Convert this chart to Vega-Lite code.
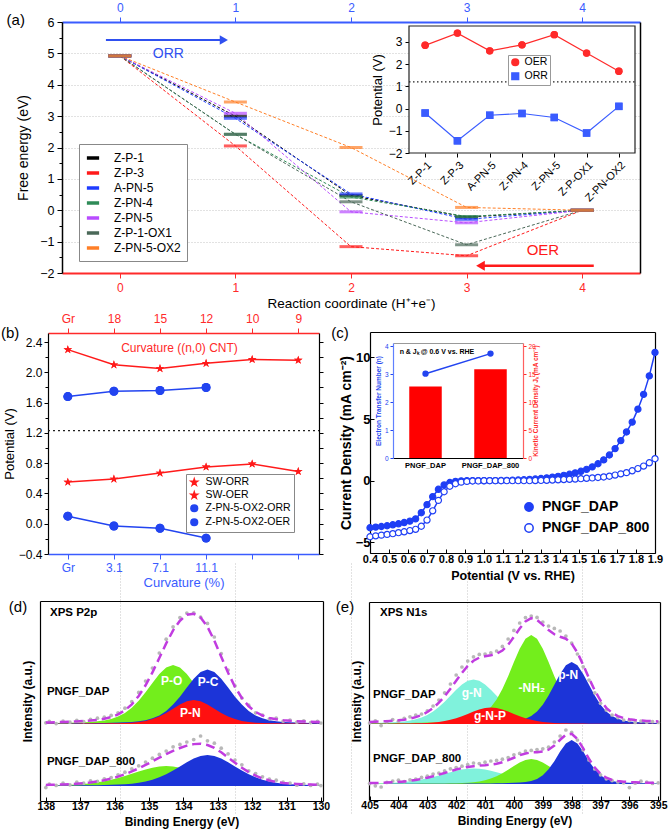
{
"$schema":"https://vega.github.io/schema/vega-lite/v6.json",
"width":668,"height":836,"autosize":"none","padding":0,"background":"white",
"config":{"font":"Liberation Sans","view":{"stroke":null},
 "axis":{"labelFont":"Liberation Sans","titleFont":"Liberation Sans","domainColor":"#000","tickColor":"#000","labelColor":"#000","titleColor":"#000","titleFontWeight":"normal","labelFlush":false,"labelOverlap":false,"grid":false,"domainWidth":1.2,"tickWidth":1,"labelFontSize":12,"titleFontSize":13,"tickSize":5},
 "legend":{"labelFont":"Liberation Sans"},
 "text":{"font":"Liberation Sans"}},
"datasets":{
 "fe":[
  {"s":"Z-P-1","step":0,"g":4.92},{"s":"Z-P-1","step":1,"g":3.0},{"s":"Z-P-1","step":2,"g":0.47},{"s":"Z-P-1","step":3,"g":-0.22},{"s":"Z-P-1","step":4,"g":0},
  {"s":"Z-P-3","step":0,"g":4.92},{"s":"Z-P-3","step":1,"g":2.05},{"s":"Z-P-3","step":2,"g":-1.16},{"s":"Z-P-3","step":3,"g":-1.45},{"s":"Z-P-3","step":4,"g":0},
  {"s":"A-PN-5","step":0,"g":4.92},{"s":"A-PN-5","step":1,"g":2.93},{"s":"A-PN-5","step":2,"g":0.52},{"s":"A-PN-5","step":3,"g":-0.29},{"s":"A-PN-5","step":4,"g":0},
  {"s":"Z-PN-4","step":0,"g":4.92},{"s":"Z-PN-4","step":1,"g":2.42},{"s":"Z-PN-4","step":2,"g":0.42},{"s":"Z-PN-4","step":3,"g":-0.2},{"s":"Z-PN-4","step":4,"g":0},
  {"s":"Z-PN-5","step":0,"g":4.92},{"s":"Z-PN-5","step":1,"g":3.09},{"s":"Z-PN-5","step":2,"g":-0.05},{"s":"Z-PN-5","step":3,"g":-0.4},{"s":"Z-PN-5","step":4,"g":0},
  {"s":"Z-P-1-OX1","step":0,"g":4.92},{"s":"Z-P-1-OX1","step":1,"g":2.42},{"s":"Z-P-1-OX1","step":2,"g":0.27},{"s":"Z-P-1-OX1","step":3,"g":-1.1},{"s":"Z-P-1-OX1","step":4,"g":0},
  {"s":"Z-PN-5-OX2","step":0,"g":4.92},{"s":"Z-PN-5-OX2","step":1,"g":3.45},{"s":"Z-PN-5-OX2","step":2,"g":2.0},{"s":"Z-PN-5-OX2","step":3,"g":0.09},{"s":"Z-PN-5-OX2","step":4,"g":0}],
 "ins":[
  {"i":0,"sample":"Z-P-1","t":"OER","v":2.85},{"i":1,"sample":"Z-P-3","t":"OER","v":3.4},{"i":2,"sample":"A-PN-5","t":"OER","v":2.6},{"i":3,"sample":"Z-PN-4","t":"OER","v":2.87},{"i":4,"sample":"Z-PN-5","t":"OER","v":3.33},{"i":5,"sample":"Z-P-OX1","t":"OER","v":2.5},{"i":6,"sample":"Z-PN-OX2","t":"OER","v":1.68},
  {"i":0,"sample":"Z-P-1","t":"ORR","v":-0.2},{"i":1,"sample":"Z-P-3","t":"ORR","v":-1.45},{"i":2,"sample":"A-PN-5","t":"ORR","v":-0.3},{"i":3,"sample":"Z-PN-4","t":"ORR","v":-0.22},{"i":4,"sample":"Z-PN-5","t":"ORR","v":-0.4},{"i":5,"sample":"Z-P-OX1","t":"ORR","v":-1.1},{"i":6,"sample":"Z-PN-OX2","t":"ORR","v":0.1}],
 "bb":[
  {"i":0,"s":"SW-ORR","v":0.55},{"i":1,"s":"SW-ORR","v":0.59},{"i":2,"s":"SW-ORR","v":0.67},{"i":3,"s":"SW-ORR","v":0.75},{"i":4,"s":"SW-ORR","v":0.79},{"i":5,"s":"SW-ORR","v":0.69},
  {"i":0,"s":"SW-OER","v":2.3},{"i":1,"s":"SW-OER","v":2.1},{"i":2,"s":"SW-OER","v":2.05},{"i":3,"s":"SW-OER","v":2.12},{"i":4,"s":"SW-OER","v":2.17},{"i":5,"s":"SW-OER","v":2.16},
  {"i":0,"s":"Z-PN-5-OX2-ORR","v":0.1},{"i":1,"s":"Z-PN-5-OX2-ORR","v":-0.03},{"i":2,"s":"Z-PN-5-OX2-ORR","v":-0.06},{"i":3,"s":"Z-PN-5-OX2-ORR","v":-0.19},
  {"i":0,"s":"Z-PN-5-OX2-OER","v":1.68},{"i":1,"s":"Z-PN-5-OX2-OER","v":1.75},{"i":2,"s":"Z-PN-5-OX2-OER","v":1.76},{"i":3,"s":"Z-PN-5-OX2-OER","v":1.8}],
 "lsv":[
  {"p":0.4,"PNGF_DAP":-3.82,"PNGF_DAP_800":-4.55},{"p":0.43,"PNGF_DAP":-3.77,"PNGF_DAP_800":-4.48},{"p":0.46,"PNGF_DAP":-3.72,"PNGF_DAP_800":-4.42},{"p":0.49,"PNGF_DAP":-3.66,"PNGF_DAP_800":-4.36},{"p":0.52,"PNGF_DAP":-3.58,"PNGF_DAP_800":-4.3},{"p":0.55,"PNGF_DAP":-3.5,"PNGF_DAP_800":-4.22},{"p":0.58,"PNGF_DAP":-3.4,"PNGF_DAP_800":-4.15},{"p":0.61,"PNGF_DAP":-3.28,"PNGF_DAP_800":-4.05},{"p":0.64,"PNGF_DAP":-3.1,"PNGF_DAP_800":-3.95},{"p":0.67,"PNGF_DAP":-2.6,"PNGF_DAP_800":-3.7},
  {"p":0.7,"PNGF_DAP":-1.95,"PNGF_DAP_800":-3.2},{"p":0.73,"PNGF_DAP":-1.3,"PNGF_DAP_800":-2.45},{"p":0.76,"PNGF_DAP":-0.7,"PNGF_DAP_800":-1.6},{"p":0.79,"PNGF_DAP":-0.35,"PNGF_DAP_800":-0.9},{"p":0.82,"PNGF_DAP":-0.15,"PNGF_DAP_800":-0.45},{"p":0.85,"PNGF_DAP":-0.06,"PNGF_DAP_800":-0.25},{"p":0.88,"PNGF_DAP":-0.02,"PNGF_DAP_800":-0.12},{"p":0.91,"PNGF_DAP":0,"PNGF_DAP_800":-0.06},{"p":0.94,"PNGF_DAP":0,"PNGF_DAP_800":-0.03},{"p":0.97,"PNGF_DAP":0,"PNGF_DAP_800":-0.02},
  {"p":1.0,"PNGF_DAP":0,"PNGF_DAP_800":-0.01},{"p":1.03,"PNGF_DAP":0,"PNGF_DAP_800":0},{"p":1.06,"PNGF_DAP":0,"PNGF_DAP_800":0},{"p":1.09,"PNGF_DAP":0.01,"PNGF_DAP_800":0},{"p":1.12,"PNGF_DAP":0.02,"PNGF_DAP_800":0},{"p":1.15,"PNGF_DAP":0.03,"PNGF_DAP_800":0},{"p":1.18,"PNGF_DAP":0.05,"PNGF_DAP_800":0},{"p":1.21,"PNGF_DAP":0.07,"PNGF_DAP_800":0},{"p":1.24,"PNGF_DAP":0.1,"PNGF_DAP_800":0},{"p":1.27,"PNGF_DAP":0.13,"PNGF_DAP_800":0.01},
  {"p":1.3,"PNGF_DAP":0.17,"PNGF_DAP_800":0.02},{"p":1.33,"PNGF_DAP":0.22,"PNGF_DAP_800":0.03},{"p":1.36,"PNGF_DAP":0.28,"PNGF_DAP_800":0.05},{"p":1.39,"PNGF_DAP":0.35,"PNGF_DAP_800":0.07},{"p":1.42,"PNGF_DAP":0.43,"PNGF_DAP_800":0.09},{"p":1.45,"PNGF_DAP":0.52,"PNGF_DAP_800":0.11},{"p":1.48,"PNGF_DAP":0.63,"PNGF_DAP_800":0.13},{"p":1.51,"PNGF_DAP":0.76,"PNGF_DAP_800":0.16},{"p":1.54,"PNGF_DAP":0.92,"PNGF_DAP_800":0.19},{"p":1.57,"PNGF_DAP":1.12,"PNGF_DAP_800":0.22},
  {"p":1.6,"PNGF_DAP":1.37,"PNGF_DAP_800":0.26},{"p":1.63,"PNGF_DAP":1.68,"PNGF_DAP_800":0.3},{"p":1.66,"PNGF_DAP":2.08,"PNGF_DAP_800":0.36},{"p":1.69,"PNGF_DAP":2.6,"PNGF_DAP_800":0.45},{"p":1.72,"PNGF_DAP":3.25,"PNGF_DAP_800":0.55},{"p":1.75,"PNGF_DAP":3.95,"PNGF_DAP_800":0.65},{"p":1.78,"PNGF_DAP":4.75,"PNGF_DAP_800":0.8},{"p":1.81,"PNGF_DAP":5.8,"PNGF_DAP_800":0.98},{"p":1.84,"PNGF_DAP":7.0,"PNGF_DAP_800":1.18},{"p":1.87,"PNGF_DAP":8.5,"PNGF_DAP_800":1.45},
  {"p":1.9,"PNGF_DAP":10.4,"PNGF_DAP_800":1.78}],
 "cin":[{"sample":"PNGF_DAP","n":3.02,"jk":12.8},{"sample":"PNGF_DAP_800","n":3.74,"jk":15.9}],
 "d1":[
  {"e":138.0,"po":0.45,"pc":0.22,"pn":0.1,"fit":0.77,"raw":0.6},{"e":137.9,"po":0.47,"pc":0.23,"pn":0.11,"fit":0.81,"raw":1.3},{"e":137.7,"po":0.5,"pc":0.26,"pn":0.12,"fit":0.88,"raw":0.2},{"e":137.5,"po":0.59,"pc":0.28,"pn":0.13,"fit":1.0,"raw":1.4},{"e":137.3,"po":0.65,"pc":0.31,"pn":0.14,"fit":1.1,"raw":0.9},{"e":137.1,"po":0.74,"pc":0.35,"pn":0.17,"fit":1.26,"raw":1.8},{"e":136.9,"po":0.89,"pc":0.38,"pn":0.2,"fit":1.47,"raw":1.2},{"e":136.7,"po":1.06,"pc":0.43,"pn":0.22,"fit":1.71,"raw":2.3},{"e":136.5,"po":1.35,"pc":0.48,"pn":0.24,"fit":2.07,"raw":2.9},{"e":136.3,"po":1.8,"pc":0.55,"pn":0.28,"fit":2.63,"raw":3.4},
  {"e":136.1,"po":2.5,"pc":0.62,"pn":0.32,"fit":3.44,"raw":4.3},{"e":135.9,"po":3.7,"pc":0.71,"pn":0.38,"fit":4.79,"raw":5.6},{"e":135.7,"po":5.5,"pc":0.83,"pn":0.5,"fit":6.83,"raw":7.9},{"e":135.5,"po":8.1,"pc":1.06,"pn":0.68,"fit":9.84,"raw":11.2},{"e":135.3,"po":11.6,"pc":1.4,"pn":1.0,"fit":14.0,"raw":15.8},{"e":135.1,"po":15.9,"pc":1.9,"pn":1.55,"fit":19.35,"raw":21.5},{"e":134.9,"po":20.5,"pc":2.85,"pn":2.44,"fit":25.8,"raw":28.0},{"e":134.7,"po":25.0,"pc":4.3,"pn":3.74,"fit":33.0,"raw":35.5},{"e":134.5,"po":28.3,"pc":6.5,"pn":5.5,"fit":40.3,"raw":42.4},{"e":134.3,"po":29.5,"pc":9.7,"pn":7.6,"fit":46.8,"raw":48.6},
  {"e":134.1,"po":28.3,"pc":13.65,"pn":9.7,"fit":51.65,"raw":53.2},{"e":133.9,"po":25.0,"pc":18.2,"pn":11.4,"fit":54.6,"raw":55.5},{"e":133.7,"po":20.5,"pc":22.6,"pn":12.0,"fit":55.1,"raw":55.6},{"e":133.5,"po":15.9,"pc":26.0,"pn":11.4,"fit":53.3,"raw":53.4},{"e":133.3,"po":11.6,"pc":27.3,"pn":9.7,"fit":48.6,"raw":50.3},{"e":133.1,"po":8.1,"pc":26.0,"pn":7.6,"fit":41.7,"raw":43.5},{"e":132.9,"po":5.5,"pc":22.6,"pn":5.5,"fit":33.6,"raw":35.2},{"e":132.7,"po":3.7,"pc":18.2,"pn":3.74,"fit":25.6,"raw":27.0},{"e":132.5,"po":2.5,"pc":13.65,"pn":2.44,"fit":18.6,"raw":19.1},{"e":132.3,"po":1.8,"pc":9.7,"pn":1.55,"fit":13.05,"raw":13.0},
  {"e":132.1,"po":1.35,"pc":6.5,"pn":1.0,"fit":8.85,"raw":9.4},{"e":131.9,"po":1.06,"pc":4.3,"pn":0.68,"fit":6.04,"raw":5.6},{"e":131.7,"po":0.89,"pc":2.85,"pn":0.5,"fit":4.24,"raw":4.5},{"e":131.5,"po":0.74,"pc":1.9,"pn":0.38,"fit":3.02,"raw":2.6},{"e":131.3,"po":0.65,"pc":1.4,"pn":0.32,"fit":2.37,"raw":2.9},{"e":131.1,"po":0.59,"pc":1.06,"pn":0.28,"fit":1.93,"raw":1.4},{"e":130.9,"po":0.5,"pc":0.83,"pn":0.24,"fit":1.57,"raw":2.0},{"e":130.7,"po":0.47,"pc":0.71,"pn":0.22,"fit":1.4,"raw":0.9},{"e":130.5,"po":0.41,"pc":0.62,"pn":0.2,"fit":1.23,"raw":1.6},{"e":130.3,"po":0.38,"pc":0.55,"pn":0.17,"fit":1.1,"raw":0.7},
  {"e":130.1,"po":0.35,"pc":0.48,"pn":0.15,"fit":0.98,"raw":1.3},{"e":130.0,"po":0.34,"pc":0.45,"pn":0.14,"fit":0.93,"raw":0.5}],
 "d2":[
  {"e":138.0,"po":0.33,"pc":0.2,"fit":0.53,"raw":-0.8},{"e":137.9,"po":0.36,"pc":0.21,"fit":0.57,"raw":0.9},{"e":137.7,"po":0.42,"pc":0.23,"fit":0.65,"raw":0.3},{"e":137.5,"po":0.51,"pc":0.25,"fit":0.76,"raw":1.5},{"e":137.3,"po":0.63,"pc":0.27,"fit":0.9,"raw":0.6},{"e":137.1,"po":0.8,"pc":0.3,"fit":1.1,"raw":1.9},{"e":136.9,"po":1.04,"pc":0.33,"fit":1.37,"raw":1.4},{"e":136.7,"po":1.37,"pc":0.37,"fit":1.74,"raw":2.6},{"e":136.5,"po":1.82,"pc":0.43,"fit":2.25,"raw":2.3},{"e":136.3,"po":2.39,"pc":0.48,"fit":2.87,"raw":3.6},
  {"e":136.1,"po":3.12,"pc":0.57,"fit":3.69,"raw":4.2},{"e":135.9,"po":4.0,"pc":0.7,"fit":4.7,"raw":5.6},{"e":135.7,"po":5.0,"pc":0.89,"fit":5.89,"raw":6.9},{"e":135.5,"po":6.1,"pc":1.18,"fit":7.28,"raw":8.6},{"e":135.3,"po":7.22,"pc":1.61,"fit":8.83,"raw":10.1},{"e":135.1,"po":8.29,"pc":2.25,"fit":10.54,"raw":12.0},{"e":134.9,"po":9.18,"pc":3.14,"fit":12.32,"raw":13.9},{"e":134.7,"po":9.79,"pc":4.36,"fit":14.15,"raw":15.8},{"e":134.5,"po":10.0,"pc":5.91,"fit":15.91,"raw":17.5},{"e":134.3,"po":9.79,"pc":7.75,"fit":17.54,"raw":19.6},
  {"e":134.1,"po":9.18,"pc":9.8,"fit":18.98,"raw":20.8},{"e":133.9,"po":8.29,"pc":11.87,"fit":20.16,"raw":22.0},{"e":133.7,"po":7.22,"pc":13.72,"fit":20.94,"raw":23.2},{"e":133.5,"po":6.1,"pc":15.03,"fit":21.13,"raw":25.0},{"e":133.3,"po":5.0,"pc":15.5,"fit":20.5,"raw":22.6},{"e":133.1,"po":4.0,"pc":15.03,"fit":19.03,"raw":21.4},{"e":132.9,"po":3.12,"pc":13.72,"fit":16.84,"raw":18.9},{"e":132.7,"po":2.39,"pc":11.87,"fit":14.26,"raw":16.1},{"e":132.5,"po":1.82,"pc":9.8,"fit":11.62,"raw":13.0},{"e":132.3,"po":1.37,"pc":7.75,"fit":9.12,"raw":10.6},
  {"e":132.1,"po":1.04,"pc":5.91,"fit":6.95,"raw":7.6},{"e":131.9,"po":0.8,"pc":4.36,"fit":5.16,"raw":6.2},{"e":131.7,"po":0.63,"pc":3.14,"fit":3.77,"raw":4.6},{"e":131.5,"po":0.51,"pc":2.25,"fit":2.76,"raw":3.4},{"e":131.3,"po":0.42,"pc":1.61,"fit":2.03,"raw":2.9},{"e":131.1,"po":0.36,"pc":1.18,"fit":1.54,"raw":1.9},{"e":130.9,"po":0.31,"pc":0.89,"fit":1.2,"raw":1.5},{"e":130.7,"po":0.28,"pc":0.7,"fit":0.98,"raw":0.4},{"e":130.5,"po":0.25,"pc":0.57,"fit":0.82,"raw":1.1},{"e":130.3,"po":0.23,"pc":0.48,"fit":0.71,"raw":0.3},
  {"e":130.1,"po":0.21,"pc":0.43,"fit":0.64,"raw":0.9},{"e":130.0,"po":0.2,"pc":0.4,"fit":0.6,"raw":0.2}],
 "e1":[
  {"e":405.0,"gn":0.48,"gnp":0.12,"nh2":0.33,"pn":0.11,"fit":1.04,"raw":0.5},{"e":404.8,"gn":0.54,"gnp":0.13,"nh2":0.36,"pn":0.12,"fit":1.15,"raw":1.6},{"e":404.6,"gn":0.62,"gnp":0.15,"nh2":0.38,"pn":0.12,"fit":1.27,"raw":-0.8},{"e":404.4,"gn":0.69,"gnp":0.16,"nh2":0.4,"pn":0.13,"fit":1.38,"raw":1.2},{"e":404.2,"gn":0.83,"gnp":0.18,"nh2":0.45,"pn":0.14,"fit":1.6,"raw":2.2},{"e":404.0,"gn":1.0,"gnp":0.2,"nh2":0.47,"pn":0.15,"fit":1.82,"raw":1.4},{"e":403.8,"gn":1.27,"gnp":0.23,"nh2":0.49,"pn":0.16,"fit":2.15,"raw":2.8},{"e":403.6,"gn":1.69,"gnp":0.27,"nh2":0.53,"pn":0.17,"fit":2.66,"raw":3.6},{"e":403.4,"gn":2.32,"gnp":0.33,"nh2":0.58,"pn":0.18,"fit":3.41,"raw":4.5},{"e":403.2,"gn":3.23,"gnp":0.41,"nh2":0.62,"pn":0.2,"fit":4.46,"raw":5.0},
  {"e":403.0,"gn":4.53,"gnp":0.53,"nh2":0.71,"pn":0.21,"fit":5.98,"raw":6.6},{"e":402.8,"gn":6.27,"gnp":0.73,"nh2":0.76,"pn":0.22,"fit":7.98,"raw":9.0},{"e":402.6,"gn":8.5,"gnp":1.03,"nh2":0.89,"pn":0.24,"fit":10.66,"raw":12.0},{"e":402.4,"gn":11.15,"gnp":1.46,"nh2":0.98,"pn":0.26,"fit":13.85,"raw":15.6},{"e":402.2,"gn":14.1,"gnp":2.08,"nh2":1.11,"pn":0.29,"fit":17.58,"raw":20.0},{"e":402.0,"gn":17.1,"gnp":2.88,"nh2":1.34,"pn":0.33,"fit":21.65,"raw":24.5},{"e":401.8,"gn":19.7,"gnp":3.88,"nh2":1.6,"pn":0.34,"fit":25.52,"raw":28.5},{"e":401.6,"gn":21.6,"gnp":5.0,"nh2":2.05,"pn":0.39,"fit":29.04,"raw":31.5},{"e":401.4,"gn":22.3,"gnp":6.2,"nh2":2.71,"pn":0.43,"fit":31.64,"raw":33.6},{"e":401.2,"gn":21.6,"gnp":7.25,"nh2":3.83,"pn":0.5,"fit":33.18,"raw":34.8},
  {"e":401.0,"gn":19.7,"gnp":8.0,"nh2":5.6,"pn":0.56,"fit":33.86,"raw":35.0},{"e":400.8,"gn":17.1,"gnp":8.3,"nh2":8.37,"pn":0.62,"fit":34.39,"raw":35.6},{"e":400.6,"gn":14.1,"gnp":8.0,"nh2":12.3,"pn":0.71,"fit":35.11,"raw":36.5},{"e":400.4,"gn":11.15,"gnp":7.25,"nh2":17.5,"pn":0.84,"fit":36.74,"raw":38.8},{"e":400.2,"gn":8.5,"gnp":6.2,"nh2":23.9,"pn":0.99,"fit":39.59,"raw":42.5},{"e":400.0,"gn":6.27,"gnp":5.0,"nh2":31.0,"pn":1.3,"fit":43.57,"raw":46.8},{"e":399.8,"gn":4.53,"gnp":3.88,"nh2":37.6,"pn":1.77,"fit":47.78,"raw":50.5},{"e":399.6,"gn":3.23,"gnp":2.88,"nh2":42.6,"pn":2.6,"fit":51.31,"raw":53.2},{"e":399.4,"gn":2.32,"gnp":2.08,"nh2":44.5,"pn":4.0,"fit":52.9,"raw":54.0},{"e":399.2,"gn":1.69,"gnp":1.46,"nh2":42.6,"pn":6.29,"fit":52.04,"raw":53.3},
  {"e":399.0,"gn":1.27,"gnp":1.03,"nh2":37.6,"pn":9.67,"fit":49.57,"raw":51.0},{"e":398.8,"gn":1.0,"gnp":0.73,"nh2":31.0,"pn":14.2,"fit":46.93,"raw":49.0},{"e":398.6,"gn":0.83,"gnp":0.53,"nh2":23.9,"pn":19.6,"fit":44.86,"raw":47.8},{"e":398.4,"gn":0.69,"gnp":0.41,"nh2":17.5,"pn":25.0,"fit":43.6,"raw":46.5},{"e":398.2,"gn":0.62,"gnp":0.33,"nh2":12.3,"pn":29.4,"fit":42.65,"raw":44.0},{"e":398.0,"gn":0.54,"gnp":0.27,"nh2":8.37,"pn":31.0,"fit":40.18,"raw":40.5},{"e":397.8,"gn":0.48,"gnp":0.23,"nh2":5.6,"pn":29.4,"fit":35.71,"raw":35.0},{"e":397.6,"gn":0.43,"gnp":0.2,"nh2":3.83,"pn":25.0,"fit":29.46,"raw":28.6},{"e":397.4,"gn":0.39,"gnp":0.18,"nh2":2.71,"pn":19.6,"fit":22.88,"raw":22.0},{"e":397.2,"gn":0.36,"gnp":0.16,"nh2":2.05,"pn":14.2,"fit":16.77,"raw":15.6},
  {"e":397.0,"gn":0.33,"gnp":0.15,"nh2":1.6,"pn":9.67,"fit":11.75,"raw":10.4},{"e":396.8,"gn":0.3,"gnp":0.13,"nh2":1.34,"pn":6.29,"fit":8.06,"raw":7.0},{"e":396.6,"gn":0.28,"gnp":0.12,"nh2":1.11,"pn":4.0,"fit":5.51,"raw":4.5},{"e":396.4,"gn":0.26,"gnp":0.11,"nh2":0.98,"pn":2.6,"fit":3.95,"raw":3.2},{"e":396.2,"gn":0.24,"gnp":0.1,"nh2":0.89,"pn":1.77,"fit":3.0,"raw":2.0},{"e":396.0,"gn":0.23,"gnp":0.09,"nh2":0.76,"pn":1.3,"fit":2.38,"raw":1.8},{"e":395.8,"gn":0.22,"gnp":0.08,"nh2":0.71,"pn":0.99,"fit":2.0,"raw":0.8},{"e":395.6,"gn":0.21,"gnp":0.08,"nh2":0.62,"pn":0.84,"fit":1.75,"raw":1.5},{"e":395.4,"gn":0.2,"gnp":0.07,"nh2":0.58,"pn":0.71,"fit":1.56,"raw":0.9},{"e":395.2,"gn":0.19,"gnp":0.07,"nh2":0.53,"pn":0.62,"fit":1.41,"raw":1.2},
  {"e":395.0,"gn":0.18,"gnp":0.06,"nh2":0.49,"pn":0.56,"fit":1.29,"raw":0.8}],
 "e2":[
  {"e":405.0,"gn":0.3,"nh2":0.095,"pn":0.05,"fit":0.45,"raw":0.2},{"e":404.8,"gn":0.35,"nh2":0.1,"pn":0.05,"fit":0.5,"raw":-0.9},{"e":404.6,"gn":0.41,"nh2":0.11,"pn":0.06,"fit":0.58,"raw":-1.5},{"e":404.4,"gn":0.51,"nh2":0.12,"pn":0.06,"fit":0.69,"raw":0.8},{"e":404.2,"gn":0.63,"nh2":0.13,"pn":0.07,"fit":0.83,"raw":1.5},{"e":404.0,"gn":0.81,"nh2":0.14,"pn":0.07,"fit":1.02,"raw":1.9},{"e":403.8,"gn":1.05,"nh2":0.15,"pn":0.08,"fit":1.28,"raw":1.2},{"e":403.6,"gn":1.36,"nh2":0.16,"pn":0.08,"fit":1.6,"raw":2.1},{"e":403.4,"gn":1.76,"nh2":0.18,"pn":0.09,"fit":2.03,"raw":2.5},{"e":403.2,"gn":2.25,"nh2":0.2,"pn":0.09,"fit":2.54,"raw":3.3},
  {"e":403.0,"gn":2.84,"nh2":0.22,"pn":0.1,"fit":3.16,"raw":3.9},{"e":402.8,"gn":3.53,"nh2":0.25,"pn":0.11,"fit":3.89,"raw":5.0},{"e":402.6,"gn":4.29,"nh2":0.28,"pn":0.12,"fit":4.69,"raw":5.5},{"e":402.4,"gn":5.09,"nh2":0.31,"pn":0.13,"fit":5.53,"raw":6.6},{"e":402.2,"gn":5.9,"nh2":0.36,"pn":0.14,"fit":6.4,"raw":7.6},{"e":402.0,"gn":6.64,"nh2":0.43,"pn":0.15,"fit":7.22,"raw":8.2},{"e":401.8,"gn":7.25,"nh2":0.53,"pn":0.17,"fit":7.95,"raw":8.9},{"e":401.6,"gn":7.66,"nh2":0.68,"pn":0.19,"fit":8.53,"raw":9.7},{"e":401.4,"gn":7.8,"nh2":0.91,"pn":0.21,"fit":8.92,"raw":10.5},{"e":401.2,"gn":7.66,"nh2":1.3,"pn":0.24,"fit":9.2,"raw":10.2},
  {"e":401.0,"gn":7.25,"nh2":1.88,"pn":0.27,"fit":9.4,"raw":10.9},{"e":400.8,"gn":6.64,"nh2":2.74,"pn":0.31,"fit":9.69,"raw":11.5},{"e":400.6,"gn":5.9,"nh2":3.9,"pn":0.35,"fit":10.15,"raw":11.8},{"e":400.4,"gn":5.09,"nh2":5.4,"pn":0.42,"fit":10.91,"raw":12.4},{"e":400.2,"gn":4.29,"nh2":7.15,"pn":0.48,"fit":11.92,"raw":13.2},{"e":400.0,"gn":3.53,"nh2":9.0,"pn":0.59,"fit":13.12,"raw":14.6},{"e":399.8,"gn":2.84,"nh2":10.8,"pn":0.75,"fit":14.39,"raw":15.3},{"e":399.6,"gn":2.25,"nh2":12.0,"pn":1.01,"fit":15.26,"raw":16.5},{"e":399.4,"gn":1.76,"nh2":12.5,"pn":1.52,"fit":15.78,"raw":16.8},{"e":399.2,"gn":1.36,"nh2":12.0,"pn":2.53,"fit":15.89,"raw":17.2},
  {"e":399.0,"gn":1.05,"nh2":10.8,"pn":4.38,"fit":16.23,"raw":17.6},{"e":398.8,"gn":0.81,"nh2":9.0,"pn":7.33,"fit":17.14,"raw":18.4},{"e":398.6,"gn":0.63,"nh2":7.15,"pn":11.4,"fit":19.18,"raw":21.0},{"e":398.4,"gn":0.51,"nh2":5.4,"pn":16.2,"fit":22.11,"raw":24.0},{"e":398.2,"gn":0.41,"nh2":3.9,"pn":20.3,"fit":24.61,"raw":27.0},{"e":398.0,"gn":0.35,"nh2":2.74,"pn":22.0,"fit":25.09,"raw":25.8},{"e":397.8,"gn":0.3,"nh2":1.88,"pn":20.3,"fit":22.48,"raw":22.0},{"e":397.6,"gn":0.27,"nh2":1.3,"pn":16.2,"fit":17.77,"raw":17.0},{"e":397.4,"gn":0.23,"nh2":0.91,"pn":11.4,"fit":12.54,"raw":12.0},{"e":397.2,"gn":0.21,"nh2":0.68,"pn":7.33,"fit":8.22,"raw":7.5},
  {"e":397.0,"gn":0.19,"nh2":0.53,"pn":4.38,"fit":5.1,"raw":4.6},{"e":396.8,"gn":0.18,"nh2":0.43,"pn":2.53,"fit":3.14,"raw":2.6},{"e":396.6,"gn":0.16,"nh2":0.36,"pn":1.52,"fit":2.04,"raw":1.7},{"e":396.4,"gn":0.15,"nh2":0.31,"pn":1.01,"fit":1.47,"raw":1.0},{"e":396.2,"gn":0.14,"nh2":0.28,"pn":0.75,"fit":1.17,"raw":0.6},{"e":396.0,"gn":0.13,"nh2":0.25,"pn":0.59,"fit":0.97,"raw":-1.8},{"e":395.8,"gn":0.12,"nh2":0.22,"pn":0.48,"fit":0.82,"raw":0.4},{"e":395.6,"gn":0.11,"nh2":0.2,"pn":0.42,"fit":0.73,"raw":1.4},{"e":395.4,"gn":0.11,"nh2":0.18,"pn":0.35,"fit":0.64,"raw":0.9},{"e":395.2,"gn":0.1,"nh2":0.16,"pn":0.31,"fit":0.57,"raw":0.3},
  {"e":395.0,"gn":0.09,"nh2":0.15,"pn":0.27,"fit":0.51,"raw":0.6}]
},
"layer":[
 {"layer":[
  {"layer":[
   {"data":{"name":"fe"},"mark":{"type":"line","strokeWidth":1,"strokeDash":[3,2]},
    "encoding":{
     "x":{"field":"step","type":"quantitative","scale":{"domain":[-0.5,4.5],"range":[62,640],"nice":false,"zero":false},"axis":{"orient":"bottom","offset":-563,"values":[0,1,2,3,4],"format":"d","labelColor":"#ff2a2a","tickColor":"#ff2a2a","domainColor":"#ff2a2a","domainWidth":2,"labelPadding":4,"grid":true,"gridColor":"#c4c4c4","gridDash":[1,2],"title":"Reaction coordinate (H⁺+e⁻)","titleFontSize":13.5,"titlePadding":3}},
     "y":{"field":"g","type":"quantitative","scale":{"domain":[-2,6],"range":[273,22],"nice":false,"zero":false},"axis":{"orient":"left","offset":-62,"values":[-2,-1,0,1,2,3,4,5,6],"labelFontSize":12.5,"labelPadding":3,"grid":true,"gridColor":"#c4c4c4","gridDash":[1,2],"title":"Free energy (eV)","titleFontSize":14,"titlePadding":9,"domainWidth":1.5}},
     "color":{"field":"s","type":"nominal","sort":null,"scale":{"domain":["Z-P-1","Z-P-3","A-PN-5","Z-PN-4","Z-PN-5","Z-P-1-OX1","Z-PN-5-OX2"],"range":["#000000","#ff1a1a","#1f3cff","#2e8b57","#b84cff","#4a6858","#ff7f27"]},
      "legend":{"orient":"none","legendX":79,"legendY":144,"title":null,"symbolType":"M-1,0L1,0","symbolStrokeWidth":3.5,"symbolSize":150,"labelFontSize":12,"rowPadding":0,"strokeColor":"#888","fillColor":"white","padding":6,"labelOffset":13}}}},
   {"data":{"name":"fe"},"mark":{"type":"tick","orient":"horizontal","thickness":3,"size":23},
    "encoding":{
     "x":{"field":"step","type":"quantitative","scale":{"domain":[-0.5,4.5],"range":[62,640],"nice":false,"zero":false},"axis":{"orient":"top","offset":-22,"values":[0,1,2,3,4],"format":"d","labelColor":"#3a5cff","tickColor":"#3a5cff","domainColor":"#3a5cff","domainWidth":2,"labelPadding":3,"title":null}},
     "y":{"field":"g","type":"quantitative","scale":{"domain":[-2,6],"range":[273,22],"nice":false,"zero":false},"axis":{"orient":"right","offset":-28,"ticks":false,"labels":false,"title":null,"domainWidth":1.5}},
     "color":{"field":"s","type":"nominal","sort":null,"scale":{"domain":["Z-P-1","Z-P-3","A-PN-5","Z-PN-4","Z-PN-5","Z-P-1-OX1","Z-PN-5-OX2"],"range":["#000000","#ff1a1a","#1f3cff","#2e8b57","#b84cff","#4a6858","#ff7f27"]},"legend":null}}},
   {"data":{"values":[{"x":-0.12,"x2":0.88,"y":5.43}]},"mark":{"type":"rule","color":"#2f50f0","strokeWidth":2},
    "encoding":{"x":{"field":"x","type":"quantitative","scale":{"domain":[-0.5,4.5],"range":[62,640],"nice":false,"zero":false},"axis":null},"x2":{"field":"x2"},"y":{"field":"y","type":"quantitative","scale":{"domain":[-2,6],"range":[273,22],"nice":false,"zero":false},"axis":null}}},
   {"data":{"values":[{"x":0.9,"y":5.43}]},"mark":{"type":"point","shape":"triangle-right","filled":true,"color":"#2f50f0","size":90,"opacity":1},
    "encoding":{"x":{"field":"x","type":"quantitative","scale":{"domain":[-0.5,4.5],"range":[62,640],"nice":false,"zero":false},"axis":null},"y":{"field":"y","type":"quantitative","scale":{"domain":[-2,6],"range":[273,22],"nice":false,"zero":false},"axis":null}}},
   {"data":{"values":[{"x":4.1,"x2":3.14,"y":-1.77}]},"mark":{"type":"rule","color":"#ff1a1a","strokeWidth":2.5},
    "encoding":{"x":{"field":"x","type":"quantitative","scale":{"domain":[-0.5,4.5],"range":[62,640],"nice":false,"zero":false},"axis":null},"x2":{"field":"x2"},"y":{"field":"y","type":"quantitative","scale":{"domain":[-2,6],"range":[273,22],"nice":false,"zero":false},"axis":null}}},
   {"data":{"values":[{"x":3.12,"y":-1.77}]},"mark":{"type":"point","shape":"triangle-left","filled":true,"color":"#ff1a1a","size":100,"opacity":1},
    "encoding":{"x":{"field":"x","type":"quantitative","scale":{"domain":[-0.5,4.5],"range":[62,640],"nice":false,"zero":false},"axis":null},"y":{"field":"y","type":"quantitative","scale":{"domain":[-2,6],"range":[273,22],"nice":false,"zero":false},"axis":null}}},
   {"data":{"values":[{"x":0.42,"y":4.97,"t":"ORR"}]},"mark":{"type":"text","color":"#2f50f0","fontSize":14},
    "encoding":{"x":{"field":"x","type":"quantitative","scale":{"domain":[-0.5,4.5],"range":[62,640],"nice":false,"zero":false},"axis":null},"y":{"field":"y","type":"quantitative","scale":{"domain":[-2,6],"range":[273,22],"nice":false,"zero":false},"axis":null},"text":{"field":"t"}}},
   {"data":{"values":[{"x":3.66,"y":-1.28,"t":"OER"}]},"mark":{"type":"text","color":"#ff1a1a","fontSize":15},
    "encoding":{"x":{"field":"x","type":"quantitative","scale":{"domain":[-0.5,4.5],"range":[62,640],"nice":false,"zero":false},"axis":null},"y":{"field":"y","type":"quantitative","scale":{"domain":[-2,6],"range":[273,22],"nice":false,"zero":false},"axis":null},"text":{"field":"t"}}},
   {"data":{"values":[{"x":-0.9,"y":6.05,"t":"(a)"}]},"mark":{"type":"text","fontSize":15},
    "encoding":{"x":{"field":"x","type":"quantitative","scale":{"domain":[-0.5,4.5],"range":[62,640],"nice":false,"zero":false},"axis":null},"y":{"field":"y","type":"quantitative","scale":{"domain":[-2,6],"range":[273,22],"nice":false,"zero":false},"axis":{"orient":"left","offset":-62,"values":[-1.5,-0.5,0.5,1.5,2.5,3.5,4.5,5.5],"labels":false,"domain":false,"tickSize":3,"title":null}},"text":{"field":"t"}}}
  ],"resolve":{"axis":{"x":"independent","y":"independent"}}},
  {"layer":[
   {"data":{"values":[{}]},"mark":{"type":"rect","fill":"white","stroke":"#222","strokeWidth":1.2},
    "encoding":{
     "x":{"datum":-0.5,"type":"quantitative","scale":{"domain":[-0.5,6.5],"range":[409,635],"nice":false,"zero":false},"axis":{"orient":"bottom","offset":-683,"values":[0,1,2,3,4,5,6],"labelExpr":"['Z-P-1','Z-P-3','A-PN-5','Z-PN-4','Z-PN-5','Z-P-OX1','Z-PN-OX2'][datum.value]","labelAngle":-45,"labelFontSize":11,"tickSize":4,"labelPadding":2,"domain":false,"title":null}},
     "x2":{"datum":6.5},
     "y":{"datum":-2,"type":"quantitative","scale":{"domain":[-2,3.72],"range":[153,26],"nice":false,"zero":false},"axis":{"orient":"left","offset":-409,"values":[-2,-1,0,1,2,3],"tickSize":4,"labelPadding":3,"domain":false,"title":"Potential (V)","titlePadding":4}},
     "y2":{"datum":3.72}}},
   {"data":{"values":[{}]},"mark":{"type":"rule","strokeDash":[1.5,2.5],"strokeWidth":1.3,"color":"#222"},
    "encoding":{"x":{"datum":-0.5,"type":"quantitative","scale":{"domain":[-0.5,6.5],"range":[409,635],"nice":false,"zero":false},"axis":null},"x2":{"datum":6.5},"y":{"datum":1.2,"type":"quantitative","scale":{"domain":[-2,3.72],"range":[153,26],"nice":false,"zero":false},"axis":null}}},
   {"data":{"name":"ins"},"mark":{"type":"point","filled":true,"size":55,"opacity":1},
    "encoding":{"x":{"field":"i","type":"quantitative","scale":{"domain":[-0.5,6.5],"range":[409,635],"nice":false,"zero":false},"axis":null},"y":{"field":"v","type":"quantitative","scale":{"domain":[-2,3.72],"range":[153,26],"nice":false,"zero":false},"axis":null},
     "color":{"field":"t","type":"nominal","scale":{"domain":["OER","ORR"],"range":["#ff2a2a","#3a5cff"]},"legend":{"orient":"none","legendX":508,"legendY":55,"title":null,"labelFontSize":10.5,"symbolSize":45,"rowPadding":0,"strokeColor":"#999","fillColor":"white","padding":2,"labelOffset":4,"encode":{"symbols":{"update":{"shape":{"signal":"datum.value === 'ORR' ? 'square' : 'circle'"}}}}}},
     "shape":{"field":"t","type":"nominal","scale":{"domain":["OER","ORR"],"range":["circle","square"]},"legend":null}}},
   {"data":{"name":"ins"},"mark":{"type":"line","strokeWidth":1.2},
    "encoding":{"x":{"field":"i","type":"quantitative","scale":{"domain":[-0.5,6.5],"range":[409,635],"nice":false,"zero":false},"axis":null},"y":{"field":"v","type":"quantitative","scale":{"domain":[-2,3.72],"range":[153,26],"nice":false,"zero":false},"axis":null},
     "color":{"field":"t","type":"nominal","scale":{"domain":["OER","ORR"],"range":["#ff2a2a","#3a5cff"]},"legend":null}}},
   {"data":{"name":"ins"},"mark":{"type":"point","filled":true,"size":55,"opacity":1},
    "encoding":{"x":{"field":"i","type":"quantitative","scale":{"domain":[-0.5,6.5],"range":[409,635],"nice":false,"zero":false},"axis":null},"y":{"field":"v","type":"quantitative","scale":{"domain":[-2,3.72],"range":[153,26],"nice":false,"zero":false},"axis":null},
     "color":{"field":"t","type":"nominal","scale":{"domain":["OER","ORR"],"range":["#ff2a2a","#3a5cff"]},"legend":null},
     "shape":{"field":"t","type":"nominal","scale":{"domain":["OER","ORR"],"range":["circle","square"]},"legend":null}}}
  ],"resolve":{"axis":{"x":"independent","y":"independent"}}}
 ],"resolve":{"scale":{"x":"independent","y":"independent","color":"independent","shape":"independent"}}},

 {"layer":[
  {"data":{"values":[{}]},"mark":{"type":"rule","strokeDash":[2,3],"strokeWidth":1.3,"color":"#222"},
   "encoding":{
    "x":{"datum":-0.43,"type":"quantitative","scale":{"domain":[-0.43,5.45],"range":[48,319],"nice":false,"zero":false},"axis":{"orient":"bottom","offset":-282,"values":[0,1,2,3,4,5],"labelExpr":"['Gr','3.1','7.1','11.1','',''][datum.value]","labelColor":"#3a5cff","tickColor":"#3a5cff","domainColor":"#3a5cff","domainWidth":1.5,"labelPadding":3,"title":"Curvature (%)","titleColor":"#3a5cff","titlePadding":3}},
    "x2":{"datum":5.45},
    "y":{"datum":1.23,"type":"quantitative","scale":{"domain":[-0.4,2.52],"range":[554,333],"nice":false,"zero":false},"axis":{"orient":"left","offset":-48,"values":[-0.4,0,0.4,0.8,1.2,1.6,2.0,2.4],"format":".1f","tickSize":4,"labelPadding":2,"title":"Potential (V)","titlePadding":2}}}},
  {"data":{"name":"bb"},"mark":{"type":"point","filled":true,"size":80,"opacity":1},
   "encoding":{
    "x":{"field":"i","type":"quantitative","scale":{"domain":[-0.43,5.45],"range":[48,319],"nice":false,"zero":false},"axis":null},
    "y":{"field":"v","type":"quantitative","scale":{"domain":[-0.4,2.52],"range":[554,333],"nice":false,"zero":false},"axis":null},
    "color":{"field":"s","type":"nominal","sort":null,"scale":{"domain":["SW-ORR","SW-OER","Z-PN-5-OX2-ORR","Z-PN-5-OX2-OER"],"range":["#ff1a1a","#ff1a1a","#2244f0","#2244f0"]},"legend":{"orient":"none","legendX":186,"legendY":474,"title":null,"labelFontSize":10.5,"symbolSize":45,"rowPadding":0,"strokeColor":"#888","fillColor":"white","padding":3,"labelOffset":6,"encode":{"symbols":{"update":{"shape":{"signal":"indexof(datum.value, 'SW') === 0 ? 'M0,-1L0.2245,-0.309L0.9511,-0.309L0.3633,0.118L0.5878,0.809L0,0.382L-0.5878,0.809L-0.3633,0.118L-0.9511,-0.309L-0.2245,-0.309Z' : 'circle'"}}}}}},
    "shape":{"field":"s","type":"nominal","sort":null,"scale":{"domain":["SW-ORR","SW-OER","Z-PN-5-OX2-ORR","Z-PN-5-OX2-OER"],"range":["M0,-1L0.2245,-0.309L0.9511,-0.309L0.3633,0.118L0.5878,0.809L0,0.382L-0.5878,0.809L-0.3633,0.118L-0.9511,-0.309L-0.2245,-0.309Z","M0,-1L0.2245,-0.309L0.9511,-0.309L0.3633,0.118L0.5878,0.809L0,0.382L-0.5878,0.809L-0.3633,0.118L-0.9511,-0.309L-0.2245,-0.309Z","circle","circle"]},"legend":null}}},
  {"data":{"name":"bb"},"mark":{"type":"line","strokeWidth":1.5},
   "encoding":{
    "x":{"field":"i","type":"quantitative","scale":{"domain":[-0.43,5.45],"range":[48,319],"nice":false,"zero":false},"axis":{"orient":"top","offset":-333,"values":[0,1,2,3,4,5],"labelExpr":"['Gr','18','15','12','10','9'][datum.value]","labelColor":"#ff2a2a","tickColor":"#ff2a2a","domainColor":"#ff2a2a","domainWidth":1.5,"labelPadding":3,"title":"Curvature ((n,0) CNT)","titleColor":"#ff2a2a","titleFontSize":12,"titleX":179,"titleY":14,"titleAlign":"center","titleBaseline":"middle"}},
    "y":{"field":"v","type":"quantitative","scale":{"domain":[-0.4,2.52],"range":[554,333],"nice":false,"zero":false},"axis":{"orient":"right","offset":-349,"values":[-0.4,-0.2,0,0.2,0.4,0.6,0.8,1.0,1.2,1.4,1.6,1.8,2.0,2.2,2.4],"labels":false,"tickSize":4,"title":null}},
    "color":{"field":"s","type":"nominal","sort":null,"scale":{"domain":["SW-ORR","SW-OER","Z-PN-5-OX2-ORR","Z-PN-5-OX2-OER"],"range":["#ff1a1a","#ff1a1a","#2244f0","#2244f0"]},"legend":null}}},
  {"data":{"name":"bb"},"mark":{"type":"point","filled":true,"size":80,"opacity":1},
   "encoding":{
    "x":{"field":"i","type":"quantitative","scale":{"domain":[-0.43,5.45],"range":[48,319],"nice":false,"zero":false},"axis":null},
    "y":{"field":"v","type":"quantitative","scale":{"domain":[-0.4,2.52],"range":[554,333],"nice":false,"zero":false},"axis":null},
    "color":{"field":"s","type":"nominal","sort":null,"scale":{"domain":["SW-ORR","SW-OER","Z-PN-5-OX2-ORR","Z-PN-5-OX2-OER"],"range":["#ff1a1a","#ff1a1a","#2244f0","#2244f0"]},"legend":null},
    "shape":{"field":"s","type":"nominal","sort":null,"scale":{"domain":["SW-ORR","SW-OER","Z-PN-5-OX2-ORR","Z-PN-5-OX2-OER"],"range":["M0,-1L0.2245,-0.309L0.9511,-0.309L0.3633,0.118L0.5878,0.809L0,0.382L-0.5878,0.809L-0.3633,0.118L-0.9511,-0.309L-0.2245,-0.309Z","M0,-1L0.2245,-0.309L0.9511,-0.309L0.3633,0.118L0.5878,0.809L0,0.382L-0.5878,0.809L-0.3633,0.118L-0.9511,-0.309L-0.2245,-0.309Z","circle","circle"]},"legend":null}}},
  {"data":{"values":[{"x":-1.25,"y":2.52,"t":"(b)"}]},"mark":{"type":"text","fontSize":15},
   "encoding":{"x":{"field":"x","type":"quantitative","scale":{"domain":[-0.43,5.45],"range":[48,319],"nice":false,"zero":false},"axis":null},"y":{"field":"y","type":"quantitative","scale":{"domain":[-0.4,2.52],"range":[554,333],"nice":false,"zero":false},"axis":{"orient":"left","offset":-48,"values":[-0.2,0.2,0.6,1.0,1.4,1.8,2.2],"labels":false,"domain":false,"tickSize":3,"title":null}},"text":{"field":"t"}}}
 ],"resolve":{"axis":{"x":"independent","y":"independent"}}},

 {"layer":[
  {"layer":[
   {"data":{"name":"lsv"},"transform":[{"fold":["PNGF_DAP","PNGF_DAP_800"],"as":["s","j"]}],"mark":{"type":"line","color":"#1f3ff5","strokeWidth":1.5},
    "encoding":{
     "x":{"field":"p","type":"quantitative","scale":{"domain":[0.4,1.9],"range":[370,655],"nice":false,"zero":false},"axis":{"orient":"bottom","offset":-283,"values":[0.4,0.5,0.6,0.7,0.8,0.9,1.0,1.1,1.2,1.3,1.4,1.5,1.6,1.7,1.8,1.9],"format":".1f","labelFontSize":11,"labelFontWeight":"bold","tickSize":-4,"labelPadding":4,"title":"Potential (V vs. RHE)","titleFontSize":12.5,"titleFontWeight":"bold","titlePadding":5}},
     "y":{"field":"j","type":"quantitative","scale":{"domain":[-5.87,12.06],"range":[553,332],"nice":false,"zero":false},"axis":{"orient":"left","offset":-370,"values":[-5,0,5,10],"labelFontSize":13,"labelFontWeight":"bold","tickSize":-4,"labelPadding":4,"title":"Current Density (mA cm⁻²)","titleFontSize":14,"titleFontWeight":"bold","titlePadding":2}},
     "detail":{"field":"s"}}},
   {"data":{"name":"lsv"},"transform":[{"fold":["PNGF_DAP","PNGF_DAP_800"],"as":["s","j"]}],"mark":{"type":"point","filled":true,"stroke":"#1f3ff5","strokeWidth":1.2,"size":38,"opacity":1},
    "encoding":{
     "x":{"field":"p","type":"quantitative","scale":{"domain":[0.4,1.9],"range":[370,655],"nice":false,"zero":false},"axis":{"orient":"top","offset":-332,"labels":false,"ticks":false,"title":null}},
     "y":{"field":"j","type":"quantitative","scale":{"domain":[-5.87,12.06],"range":[553,332],"nice":false,"zero":false},"axis":{"orient":"right","offset":-13,"labels":false,"ticks":false,"title":null}},
     "fill":{"field":"s","type":"nominal","sort":null,"scale":{"domain":["PNGF_DAP","PNGF_DAP_800"],"range":["#1f3ff5","#ffffff"]},"legend":{"orient":"none","legendX":522,"legendY":500,"title":null,"symbolType":"circle","symbolSize":70,"symbolStrokeColor":"#1f3ff5","symbolStrokeWidth":1.5,"labelFontSize":14,"labelFontWeight":"bold","rowPadding":5,"labelOffset":6}}}},
   {"data":{"values":[{"x":0.242,"y":11.99,"t":"(c)"}]},"mark":{"type":"text","fontSize":15},
    "encoding":{"x":{"field":"x","type":"quantitative","scale":{"domain":[0.4,1.9],"range":[370,655],"nice":false,"zero":false},"axis":null},"y":{"field":"y","type":"quantitative","scale":{"domain":[-5.87,12.06],"range":[553,332],"nice":false,"zero":false},"axis":null},"text":{"field":"t"}}},
   {"data":{"values":[{"x":0.556,"y":10.45,"t":"n & Jₖ @ 0.6 V vs. RHE"}]},"mark":{"type":"text","fontSize":7,"fontWeight":"bold","align":"left"},
    "encoding":{"x":{"field":"x","type":"quantitative","scale":{"domain":[0.4,1.9],"range":[370,655],"nice":false,"zero":false},"axis":null},"y":{"field":"y","type":"quantitative","scale":{"domain":[-5.87,12.06],"range":[553,332],"nice":false,"zero":false},"axis":null},"text":{"field":"t"}}}
  ],"resolve":{"axis":{"x":"independent","y":"independent"}}},
  {"layer":[
   {"data":{"name":"cin"},"mark":{"type":"bar","color":"#ff0000"},
    "encoding":{
     "x":{"field":"sample","type":"nominal","scale":{"type":"band","domain":["PNGF_DAP","PNGF_DAP_800"],"range":[393,523],"paddingInner":0.5,"paddingOuter":0.25},"axis":{"orient":"bottom","offset":-378,"labelFontSize":7.5,"labelFontWeight":"bold","ticks":false,"labelPadding":3,"labelAngle":0,"title":null}},
     "y":{"field":"jk","type":"quantitative","scale":{"domain":[0,20.6],"range":[458,343],"nice":false,"zero":false},"axis":{"orient":"right","offset":-145,"values":[0,5,10,15,20],"labelFontSize":6.5,"labelColor":"#ff2a2a","tickColor":"#ff2a2a","domainColor":"#ff6060","tickSize":3,"labelPadding":2,"title":"Kinetic Current Density Jₖ (mA cm⁻²)","titleColor":"#ff2a2a","titleFontSize":6.5,"titleFontWeight":"bold","titlePadding":3,"titleAngle":270}}}},
   {"data":{"name":"cin"},"mark":{"type":"line","color":"#2244f0","strokeWidth":1.5,"point":{"filled":true,"size":40,"color":"#2244f0"}},
    "encoding":{
     "x":{"field":"sample","type":"nominal","scale":{"type":"band","domain":["PNGF_DAP","PNGF_DAP_800"],"range":[393,523],"paddingInner":0.5,"paddingOuter":0.25},"axis":{"orient":"top","offset":-343,"labels":false,"ticks":false,"domainColor":"#999","title":null}},
     "y":{"field":"n","type":"quantitative","scale":{"domain":[0,4.12],"range":[458,343],"nice":false,"zero":false},"axis":{"orient":"left","offset":-393,"values":[0,1,2,3,4],"labelFontSize":6.5,"labelColor":"#2244f0","tickColor":"#2244f0","domainColor":"#6080ff","tickSize":3,"labelPadding":2,"title":"Electron Transfer Number (n)","titleColor":"#2244f0","titleFontSize":6.5,"titleFontWeight":"bold","titlePadding":3}}}}
  ],"resolve":{"scale":{"y":"independent"},"axis":{"x":"independent","y":"independent"}}}
 ],"resolve":{"scale":{"x":"independent","y":"independent","fill":"independent"}}},

 {"layer":[
  {"data":{"name":"d1"},"encoding":{"x":{"field":"e","type":"quantitative","scale":{"domain":[129.94,138.17],"range":[323,40],"nice":false,"zero":false},"axis":null}},
   "layer":[
    {"mark":{"type":"area","color":"#73ee1c"},"encoding":{"y":{"field":"po","type":"quantitative","scale":{"domain":[0,100],"range":[724,524],"nice":false,"zero":false},"axis":null}}},
    {"mark":{"type":"area","color":"#1c34d8"},"encoding":{"y":{"field":"pc","type":"quantitative","scale":{"domain":[0,100],"range":[724,524],"nice":false,"zero":false},"axis":null}}},
    {"mark":{"type":"area","color":"#ff1010"},"encoding":{"y":{"field":"pn","type":"quantitative","scale":{"domain":[0,100],"range":[724,524],"nice":false,"zero":false},"axis":null}}},
    {"mark":{"type":"point","filled":true,"size":14,"color":"#b8b8b8","opacity":1},"encoding":{"y":{"field":"raw","type":"quantitative","scale":{"domain":[0,100],"range":[724,524],"nice":false,"zero":false},"axis":null}}},
    {"mark":{"type":"line","color":"#c13ce0","strokeWidth":2.5,"strokeDash":[9,5]},"encoding":{"y":{"field":"fit","type":"quantitative","scale":{"domain":[0,100],"range":[724,524],"nice":false,"zero":false},"axis":null}}},
    {"data":{"values":[{"e":134.34,"v":21.5,"t":"P-O"},{"e":133.28,"v":21,"t":"P-C"},{"e":133.8,"v":5.3,"t":"P-N"}]},"mark":{"type":"text","color":"white","fontWeight":"bold","fontSize":12},
     "encoding":{"y":{"field":"v","type":"quantitative","scale":{"domain":[0,100],"range":[724,524],"nice":false,"zero":false},"axis":null},"text":{"field":"t"}}},
    {"data":{"values":[{"e":137.88,"v":55.5,"t":"XPS P2p"},{"e":137.97,"v":16.2,"t":"PNGF_DAP"}]},"mark":{"type":"text","fontWeight":"bold","fontSize":11.5,"align":"left"},
     "encoding":{"y":{"field":"v","type":"quantitative","scale":{"domain":[0,100],"range":[724,524],"nice":false,"zero":false},"axis":null},"text":{"field":"t"}}},
    {"data":{"values":[{"e":138.81,"v":58.5,"t":"(d)"}]},"mark":{"type":"text","fontSize":15},
     "encoding":{"y":{"field":"v","type":"quantitative","scale":{"domain":[0,100],"range":[724,524],"nice":false,"zero":false},"axis":null},"text":{"field":"t"}}}
   ]},
  {"data":{"name":"d2"},"encoding":{"x":{"field":"e","type":"quantitative","scale":{"domain":[129.94,138.17],"range":[323,40],"nice":false,"zero":false},"axis":null}},
   "layer":[
    {"mark":{"type":"area","color":"#73ee1c"},"encoding":{"y":{"field":"po","type":"quantitative","scale":{"domain":[0,100],"range":[786,586],"nice":false,"zero":false},"axis":null}}},
    {"mark":{"type":"area","color":"#1c34d8"},"encoding":{"y":{"field":"pc","type":"quantitative","scale":{"domain":[0,100],"range":[786,586],"nice":false,"zero":false},"axis":null}}},
    {"mark":{"type":"point","filled":true,"size":14,"color":"#b8b8b8","opacity":1},"encoding":{"y":{"field":"raw","type":"quantitative","scale":{"domain":[0,100],"range":[786,586],"nice":false,"zero":false},"axis":null}}},
    {"mark":{"type":"line","color":"#c13ce0","strokeWidth":2.5,"strokeDash":[9,5]},"encoding":{"y":{"field":"fit","type":"quantitative","scale":{"domain":[0,100],"range":[786,586],"nice":false,"zero":false},"axis":null}}},
    {"data":{"values":[{"e":137.97,"v":12.2,"t":"PNGF_DAP_800"}]},"mark":{"type":"text","fontWeight":"bold","fontSize":11.5,"align":"left"},
     "encoding":{"y":{"field":"v","type":"quantitative","scale":{"domain":[0,100],"range":[786,586],"nice":false,"zero":false},"axis":null},"text":{"field":"t"}}}
   ]},
  {"data":{"values":[{}]},"mark":{"type":"point","opacity":0},
   "encoding":{
    "x":{"datum":134,"type":"quantitative","scale":{"domain":[129.94,138.17],"range":[323,40],"nice":false,"zero":false},"axis":{"orient":"bottom","offset":-35,"values":[130,131,132,133,134,135,136,137,138],"format":"d","labelFontSize":10.5,"labelFontWeight":"bold","tickSize":-4,"labelPadding":4,"title":"Binding Energy (eV)","titleFontSize":12,"titleFontWeight":"bold","titlePadding":5}},
    "y":{"datum":0.5,"type":"quantitative","scale":{"domain":[0,1],"range":[801,601],"nice":false,"zero":false},"axis":{"orient":"left","offset":-40,"labels":false,"ticks":false,"title":"Intensity (a.u.)","titleFontSize":12,"titleFontWeight":"bold","titlePadding":6}}}},
  {"data":{"values":[{}]},"mark":{"type":"point","opacity":0},
   "encoding":{
    "x":{"datum":134,"type":"quantitative","scale":{"domain":[129.94,138.17],"range":[323,40],"nice":false,"zero":false},"axis":{"orient":"top","offset":-601,"labels":false,"ticks":false,"title":null}},
    "y":{"datum":0.5,"type":"quantitative","scale":{"domain":[0,1],"range":[801,601],"nice":false,"zero":false},"axis":{"orient":"right","offset":-345,"labels":false,"ticks":false,"title":null}}}}
 ],"resolve":{"scale":{"y":"independent"},"axis":{"x":"independent","y":"independent"}}},

 {"layer":[
  {"data":{"name":"e1"},"encoding":{"x":{"field":"e","type":"quantitative","scale":{"domain":[394.94,405.02],"range":[660,369],"nice":false,"zero":false},"axis":null}},
   "layer":[
    {"mark":{"type":"area","color":"#80f2dc"},"encoding":{"y":{"field":"gn","type":"quantitative","scale":{"domain":[0,100],"range":[724,524],"nice":false,"zero":false},"axis":null}}},
    {"mark":{"type":"area","color":"#73ee1c"},"encoding":{"y":{"field":"nh2","type":"quantitative","scale":{"domain":[0,100],"range":[724,524],"nice":false,"zero":false},"axis":null}}},
    {"mark":{"type":"area","color":"#1c34d8"},"encoding":{"y":{"field":"pn","type":"quantitative","scale":{"domain":[0,100],"range":[724,524],"nice":false,"zero":false},"axis":null}}},
    {"mark":{"type":"area","color":"#ff1010"},"encoding":{"y":{"field":"gnp","type":"quantitative","scale":{"domain":[0,100],"range":[724,524],"nice":false,"zero":false},"axis":null}}},
    {"mark":{"type":"point","filled":true,"size":14,"color":"#b8b8b8","opacity":1},"encoding":{"y":{"field":"raw","type":"quantitative","scale":{"domain":[0,100],"range":[724,524],"nice":false,"zero":false},"axis":null}}},
    {"mark":{"type":"line","color":"#c13ce0","strokeWidth":2.5,"strokeDash":[9,5]},"encoding":{"y":{"field":"fit","type":"quantitative","scale":{"domain":[0,100],"range":[724,524],"nice":false,"zero":false},"axis":null}}},
    {"data":{"values":[{"e":401.46,"v":15.3,"t":"g-N"},{"e":400.83,"v":4.0,"t":"g-N-P"},{"e":399.38,"v":17.8,"t":"-NH₂"},{"e":398.12,"v":24.5,"t":"p-N"}]},"mark":{"type":"text","color":"white","fontWeight":"bold","fontSize":12},
     "encoding":{"y":{"field":"v","type":"quantitative","scale":{"domain":[0,100],"range":[724,524],"nice":false,"zero":false},"axis":null},"text":{"field":"t"}}},
    {"data":{"values":[{"e":404.64,"v":55.3,"t":"XPS N1s"},{"e":404.88,"v":14.5,"t":"PNGF_DAP"}]},"mark":{"type":"text","fontWeight":"bold","fontSize":11.5,"align":"left"},
     "encoding":{"y":{"field":"v","type":"quantitative","scale":{"domain":[0,100],"range":[724,524],"nice":false,"zero":false},"axis":null},"text":{"field":"t"}}},
    {"data":{"values":[{"e":405.85,"v":58.5,"t":"(e)"}]},"mark":{"type":"text","fontSize":15},
     "encoding":{"y":{"field":"v","type":"quantitative","scale":{"domain":[0,100],"range":[724,524],"nice":false,"zero":false},"axis":null},"text":{"field":"t"}}}
   ]},
  {"data":{"name":"e2"},"encoding":{"x":{"field":"e","type":"quantitative","scale":{"domain":[394.94,405.02],"range":[660,369],"nice":false,"zero":false},"axis":null}},
   "layer":[
    {"mark":{"type":"area","color":"#80f2dc"},"encoding":{"y":{"field":"gn","type":"quantitative","scale":{"domain":[0,100],"range":[784,584],"nice":false,"zero":false},"axis":null}}},
    {"mark":{"type":"area","color":"#73ee1c"},"encoding":{"y":{"field":"nh2","type":"quantitative","scale":{"domain":[0,100],"range":[784,584],"nice":false,"zero":false},"axis":null}}},
    {"mark":{"type":"area","color":"#1c34d8"},"encoding":{"y":{"field":"pn","type":"quantitative","scale":{"domain":[0,100],"range":[784,584],"nice":false,"zero":false},"axis":null}}},
    {"mark":{"type":"point","filled":true,"size":14,"color":"#b8b8b8","opacity":1},"encoding":{"y":{"field":"raw","type":"quantitative","scale":{"domain":[0,100],"range":[784,584],"nice":false,"zero":false},"axis":null}}},
    {"mark":{"type":"line","color":"#c13ce0","strokeWidth":2.5,"strokeDash":[9,5]},"encoding":{"y":{"field":"fit","type":"quantitative","scale":{"domain":[0,100],"range":[784,584],"nice":false,"zero":false},"axis":null}}},
    {"data":{"values":[{"e":404.88,"v":12.5,"t":"PNGF_DAP_800"}]},"mark":{"type":"text","fontWeight":"bold","fontSize":11.5,"align":"left"},
     "encoding":{"y":{"field":"v","type":"quantitative","scale":{"domain":[0,100],"range":[784,584],"nice":false,"zero":false},"axis":null},"text":{"field":"t"}}}
   ]},
  {"data":{"values":[{}]},"mark":{"type":"point","opacity":0},
   "encoding":{
    "x":{"datum":400,"type":"quantitative","scale":{"domain":[394.94,405.02],"range":[660,369],"nice":false,"zero":false},"axis":{"orient":"bottom","offset":-36,"values":[395,396,397,398,399,400,401,402,403,404,405],"format":"d","labelFontSize":10.5,"labelFontWeight":"bold","tickSize":-4,"labelPadding":4,"title":"Binding Energy (eV)","titleFontSize":12,"titleFontWeight":"bold","titlePadding":5}},
    "y":{"datum":0.5,"type":"quantitative","scale":{"domain":[0,1],"range":[800,602],"nice":false,"zero":false},"axis":{"orient":"left","offset":-369,"labels":false,"ticks":false,"title":"Intensity (a.u.)","titleFontSize":12,"titleFontWeight":"bold","titlePadding":6}}}},
  {"data":{"values":[{}]},"mark":{"type":"point","opacity":0},
   "encoding":{
    "x":{"datum":400,"type":"quantitative","scale":{"domain":[394.94,405.02],"range":[660,369],"nice":false,"zero":false},"axis":{"orient":"top","offset":-602,"labels":false,"ticks":false,"title":null}},
    "y":{"datum":0.5,"type":"quantitative","scale":{"domain":[0,1],"range":[800,602],"nice":false,"zero":false},"axis":{"orient":"right","offset":-8,"labels":false,"ticks":false,"title":null}}}}
 ],"resolve":{"scale":{"y":"independent"},"axis":{"x":"independent","y":"independent"}}}
],
"resolve":{"scale":{"x":"independent","y":"independent","color":"independent","shape":"independent","fill":"independent"}}
}
